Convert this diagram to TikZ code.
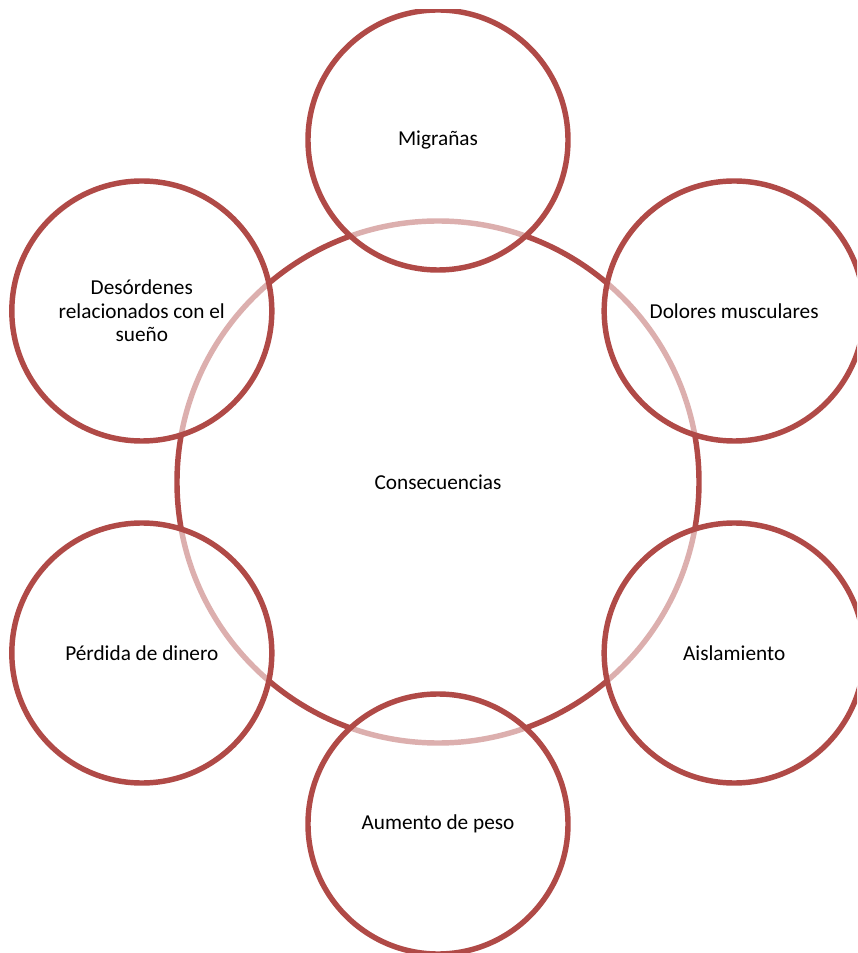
\documentclass[tikz,border=0pt]{standalone}
\usepackage{fontspec}
\setmainfont{Carlito}
\usetikzlibrary{positioning}
\definecolor{ringred}{HTML}{B04A47}
\tikzset{
  % cerchio centrale
  hub/.style={circle, draw=ringred, line width=3.1pt, minimum size=10.44cm,
    inner sep=0pt, align=center, font=\fontsize{12.1}{14.6}\selectfont},
  % cerchi esterni, riempimento bianco semitrasparente
  petal/.style={circle, draw=ringred, line width=3.1pt, minimum size=5.2cm,
    inner sep=0pt, align=center, fill=white, fill opacity=0.56, text opacity=1,
    draw opacity=1, font=\fontsize{12.1}{13.4}\selectfont},
}
\begin{document}
\begin{tikzpicture}
  \useasboundingbox (-8.76,-9.42) rectangle (8.38,9.64);
  \clip (-8.76,-9.42) rectangle (8.38,9.44);
  \node[hub] (hub) at (0,0) {Consecuencias};
  \foreach \ang/\nm/\txt in {90/migr/Migrañas, 30/dolor/Dolores musculares,
      -30/aisl/Aislamiento, -90/peso/Aumento de peso,
      -150/dinero/Pérdida de dinero,
      150/sueno/{Desórdenes\\relacionados con el\\sueño}} {
    \node[petal] (\nm) at (\ang:6.84) {\txt};
  }
\end{tikzpicture}
\end{document}
